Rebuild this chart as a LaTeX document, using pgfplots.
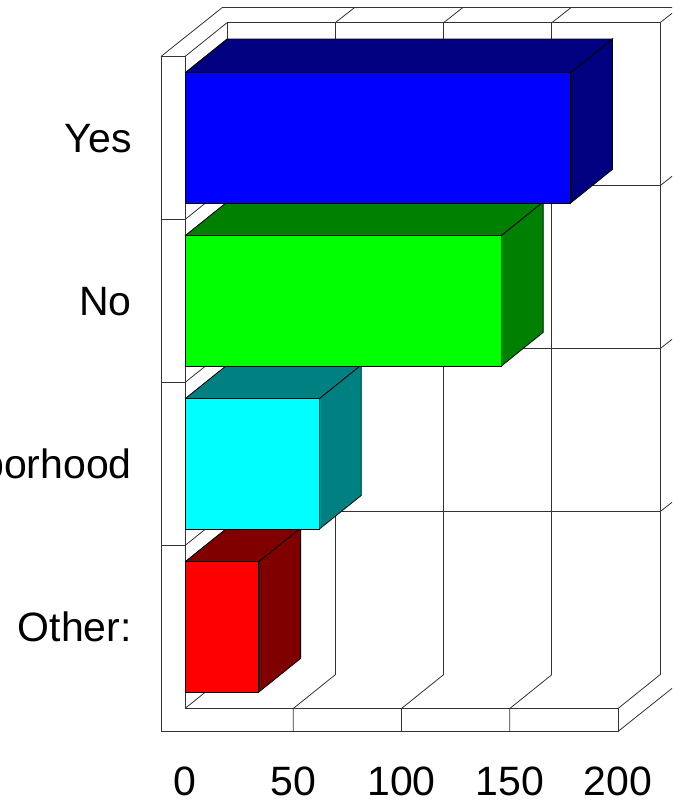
\documentclass[border=0pt]{standalone}
\usepackage{fontspec}
\setmainfont{Liberation Sans}
\usepackage{pgfplots}
\pgfplotsset{compat=1.18}
\definecolor{cblue}{RGB}{0,0,255}\definecolor{cnavy}{RGB}{0,0,128}
\definecolor{clime}{RGB}{0,255,0}\definecolor{cgreen}{RGB}{0,128,0}
\definecolor{ccyan}{RGB}{0,255,255}\definecolor{cteal}{RGB}{0,128,128}
\definecolor{cred}{RGB}{255,0,0}\definecolor{cmaroon}{RGB}{128,0,0}
\begin{document}
\begin{tikzpicture}
\begin{axis}[
  scale only axis, width=672pt, height=803pt,
  xmin=-85.45, xmax=224.94, ymin=-1.0798, ymax=3.8466,
  axis line style={draw=none}, major tick length=0pt,
  xtick={0,50,100,150,200},
  ytick={0,1,2,3}, yticklabels={Other:,Neighborhood,No,Yes},
  /pgf/number format/assume math mode=true,
  ticklabel style={font=\fontsize{41}{49}\selectfont, inner sep=0pt},
  xticklabel style={anchor=base, yshift=8pt},
  yticklabel style={anchor=base east, xshift=132pt, yshift=-14.7pt},
  wl/.style={draw=black!80, line width=0.8pt},
  bl/.style={draw=black, line width=0.8pt},
]
% ---- back wall (front face at depth) ----
\addplot[wl] coordinates {(19.4,-0.293) (19.4,3.707) (219.4,3.707) (219.4,-0.293)};
\addplot[wl] coordinates {(69.4,-0.293) (69.4,3.707)};
\addplot[wl] coordinates {(119.4,-0.293) (119.4,3.707)};
\addplot[wl] coordinates {(169.4,-0.293) (169.4,3.707)};
\addplot[wl] coordinates {(19.4,0.707) (219.4,0.707)};
\addplot[wl] coordinates {(19.4,1.707) (219.4,1.707)};
\addplot[wl] coordinates {(19.4,2.707) (219.4,2.707)};
% back wall top face
\addplot[wl] coordinates {(17.1,3.799) (240,3.799)};
\addplot[wl] coordinates {(69.4,3.707) (78.2,3.799)};
\addplot[wl] coordinates {(119.4,3.707) (128.2,3.799)};
\addplot[wl] coordinates {(169.4,3.707) (178.2,3.799)};
\addplot[wl] coordinates {(219.4,3.707) (228.2,3.799)};
% back wall right face
\addplot[wl] coordinates {(219.4,0.707) (228.2,0.799)};
\addplot[wl] coordinates {(219.4,1.707) (228.2,1.799)};
\addplot[wl] coordinates {(219.4,2.707) (228.2,2.799)};
% left wall inner face and top
\addplot[wl] coordinates {(-11.1,3.5) (17.1,3.799)};
\addplot[wl] coordinates {(0,3.5) (19.4,3.707)};
\addplot[wl] coordinates {(0,0.5) (19.4,0.707)};
\addplot[wl] coordinates {(0,1.5) (19.4,1.707)};
\addplot[wl] coordinates {(0,2.5) (19.4,2.707)};
% left wall front face
\addplot[wl] coordinates {(0,-0.5) (0,3.5) (-11.1,3.5) (-11.1,-0.641) (200,-0.641) (200,-0.5) (0,-0.5)};
\addplot[wl] coordinates {(-11.1,0.5) (0,0.5)};
\addplot[wl] coordinates {(-11.1,1.5) (0,1.5)};
\addplot[wl] coordinates {(-11.1,2.5) (0,2.5)};
% floor
\addplot[wl] coordinates {(50,-0.641) (50,-0.5) (69.4,-0.293)};
\addplot[wl] coordinates {(100,-0.641) (100,-0.5) (119.4,-0.293)};
\addplot[wl] coordinates {(150,-0.641) (150,-0.5) (169.4,-0.293)};
\addplot[wl] coordinates {(200,-0.5) (219.4,-0.293)};
\addplot[wl] coordinates {(0,-0.5) (19.4,-0.293)};
\addplot[wl] coordinates {(200,-0.641) (228.2,-0.342)};
% ---- bars: top and side faces ----
\addplot[bl, fill=cmaroon] coordinates {(0,0.4) (34,0.4) (53.4,0.607) (19.4,0.607) (0,0.4)};
\addplot[bl, fill=cmaroon] coordinates {(34,-0.4) (34,0.4) (53.4,0.607) (53.4,-0.193) (34,-0.4)};
\addplot[bl, fill=cteal] coordinates {(0,1.4) (62,1.4) (81.4,1.607) (19.4,1.607) (0,1.4)};
\addplot[bl, fill=cteal] coordinates {(62,0.6) (62,1.4) (81.4,1.607) (81.4,0.807) (62,0.6)};
\addplot[bl, fill=cgreen] coordinates {(0,2.4) (146,2.4) (165.4,2.607) (19.4,2.607) (0,2.4)};
\addplot[bl, fill=cgreen] coordinates {(146,1.6) (146,2.4) (165.4,2.607) (165.4,1.807) (146,1.6)};
\addplot[bl, fill=cnavy] coordinates {(0,3.4) (178,3.4) (197.4,3.607) (19.4,3.607) (0,3.4)};
\addplot[bl, fill=cnavy] coordinates {(178,2.6) (178,3.4) (197.4,3.607) (197.4,2.807) (178,2.6)};
% ---- bars: front faces ----
\addplot[xbar, bar width=0.8, bar shift=0, bl, fill=cred] coordinates {(34,0)};
\addplot[xbar, bar width=0.8, bar shift=0, bl, fill=ccyan] coordinates {(62,1)};
\addplot[xbar, bar width=0.8, bar shift=0, bl, fill=clime] coordinates {(146,2)};
\addplot[xbar, bar width=0.8, bar shift=0, bl, fill=cblue] coordinates {(178,3)};
\end{axis}
\pgfresetboundingbox
\useasboundingbox (current axis.south west) rectangle (current axis.north east);
\end{tikzpicture}
\end{document}
